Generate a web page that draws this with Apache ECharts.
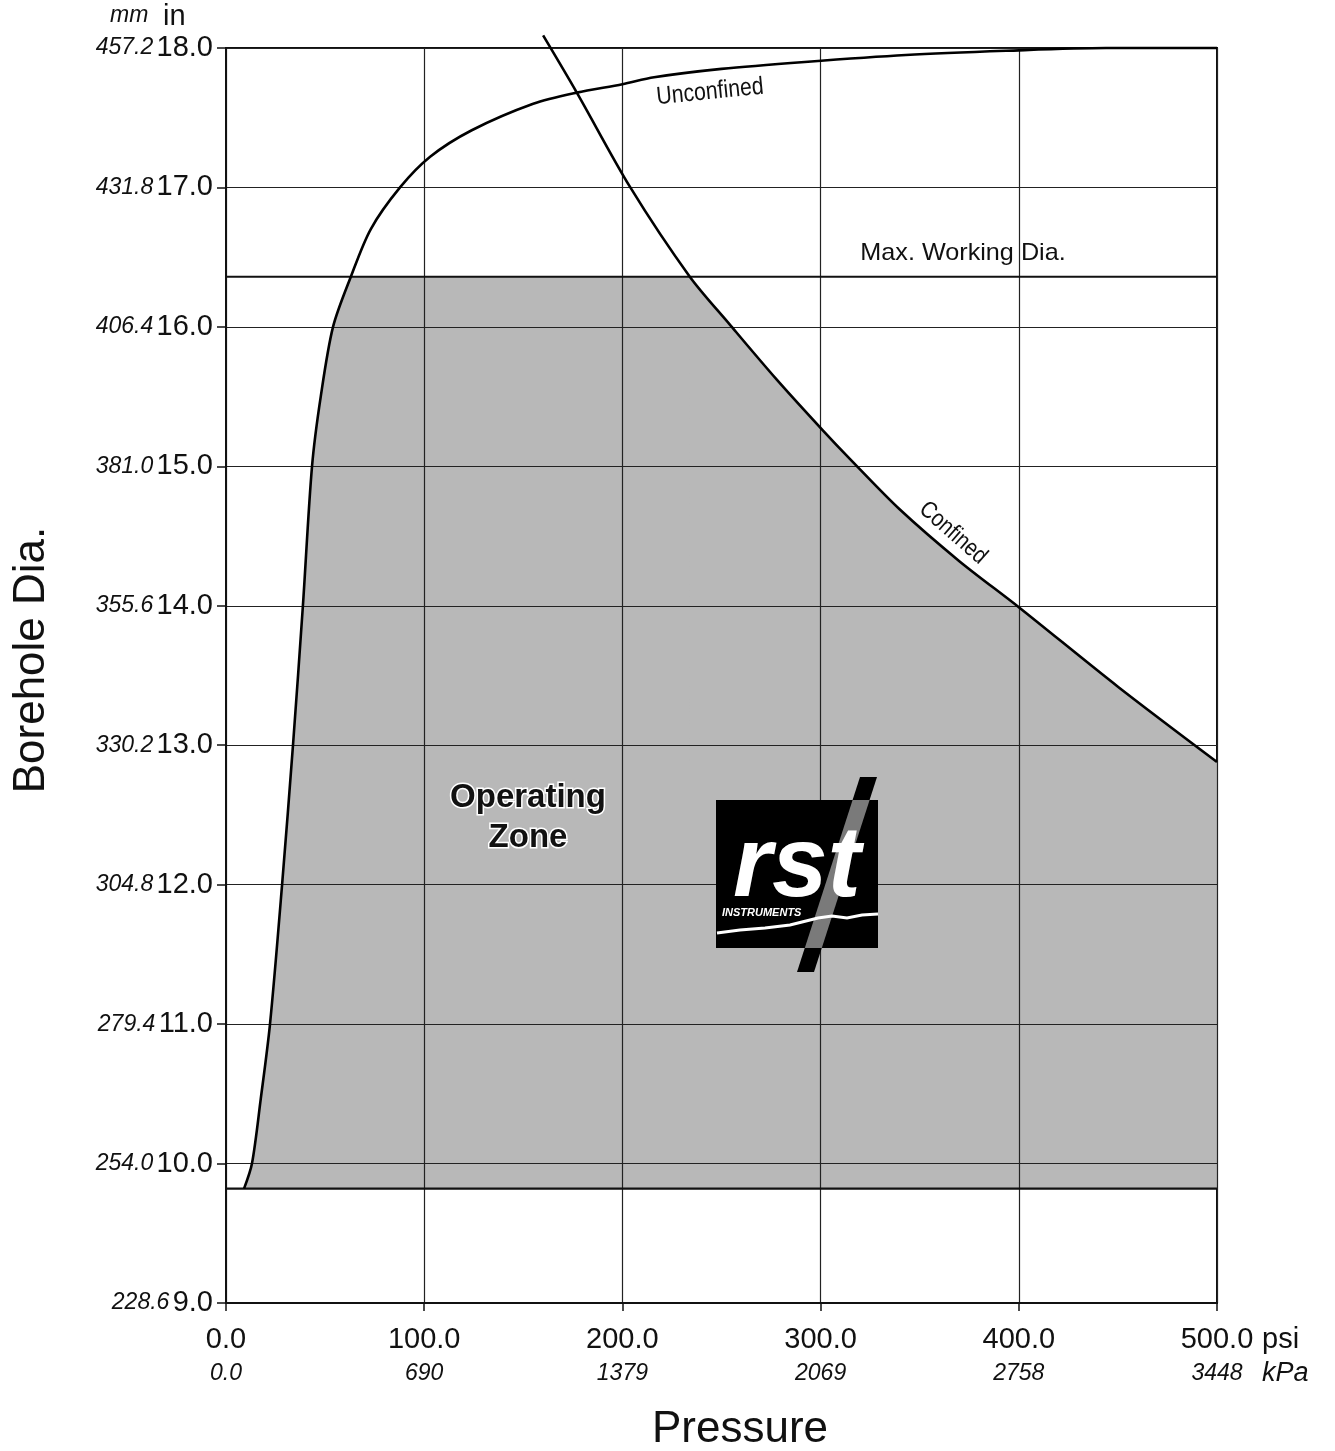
<!DOCTYPE html>
<html>
<head>
<meta charset="utf-8">
<script src="https://cdn.jsdelivr.net/npm/echarts@6/dist/echarts.min.js"></script>
<style>
html,body{margin:0;padding:0;background:#fff;}
#chart{width:1335px;height:1451px;}
</style>
</head>
<body>
<div id="chart"></div>
<script>
// ---- data ----
const psiLabels = ['0.0', '100.0', '200.0', '300.0', '400.0', '500.0'];
const kpaLabels = ['0.0', '690', '1379', '2069', '2758', '3448'];
const inLabels = ['9.0', '10.0', '11.0', '12.0', '13.0', '14.0', '15.0', '16.0', '17.0', '18.0'];
const mmLabels = ['228.6', '254.0', '279.4', '304.8', '330.2', '355.6', '381.0', '406.4', '431.8', '457.2'];

const minDia = 9.82;         // bottom boundary line (in)
const maxWorkingDia = 16.36; // max working diameter (in)

// Unconfined curve [psi, in]
const unconfined = [
  [9.1, 9.82], [13.1, 10.0], [17.5, 10.46], [22.2, 11.0], [28.3, 12.0], [33.8, 13.0],
  [38.8, 14.0], [43.4, 15.0], [47.8, 15.5], [54, 16.0], [63, 16.36], [73, 16.7],
  [87.8, 17.0], [103, 17.22], [124, 17.41], [155, 17.6], [177, 17.68],
  [200, 17.74], [216, 17.79], [250, 17.85], [292, 17.9], [343, 17.95],
  [393.6, 17.98], [444, 18.0], [500, 18.0]
];

// Confined curve [psi, in]
const confined = [
  [160, 18.09], [177, 17.68], [204, 17.0], [234, 16.36], [254, 16.02],
  [278, 15.62], [301, 15.26], [315, 15.05], [340, 14.69], [370, 14.32],
  [400, 13.99], [450, 13.42], [500, 12.88]
];

// ---- zone boundary pieces derived from the curves ----
function crossX(pts, yv) {
  for (let i = 1; i < pts.length; i++) {
    const a = pts[i - 1], b = pts[i];
    if ((a[1] - yv) * (b[1] - yv) <= 0 && a[1] !== b[1]) {
      return a[0] + (yv - a[1]) * (b[0] - a[0]) / (b[1] - a[1]);
    }
  }
  return null;
}
const xu = crossX(unconfined, maxWorkingDia);
const xc = crossX(confined, maxWorkingDia);
const zoneLeft = unconfined.filter(p => p[0] < xu).concat([[xu, maxWorkingDia]]);
const zoneMid = [[xu - 1, maxWorkingDia], [xc + 1, maxWorkingDia]];
const zoneRight = [[xc, maxWorkingDia]].concat(confined.filter(p => p[0] > xc));

const FONT = 'Liberation Sans, Arial, sans-serif';
const SMOOTH = 0.3;
const ZONE_COLOR = '#b8b8b8';

function zoneSeries(name, data, smooth) {
  return {
    name: name, type: 'line', z: 1, data: data,
    showSymbol: false, symbol: 'none', smooth: smooth,
    lineStyle: { width: 0 }, silent: true,
    areaStyle: { color: ZONE_COLOR, opacity: 1, origin: minDia }
  };
}

const chart = echarts.init(document.getElementById('chart'));

const option = {
  backgroundColor: '#fff',
  animation: false,
  grid: {
    left: 226, right: 118, top: 48, bottom: 148,
    show: true, borderColor: '#111', borderWidth: 2, backgroundColor: 'transparent'
  },
  xAxis: {
    type: 'value', min: 0, max: 500, interval: 100, z: 3,
    axisLine: { show: true, lineStyle: { color: '#111', width: 2 } },
    axisTick: { show: true, length: 8, lineStyle: { color: '#111', width: 1.5 } },
    splitLine: { show: true, lineStyle: { color: '#222', width: 1.2 } },
    axisLabel: {
      margin: 19,
      formatter: (v, i) => '{p|' + psiLabels[i] + '}\n{k|' + kpaLabels[i] + '}',
      rich: {
        p: { fontFamily: FONT, fontSize: 29, color: '#111', lineHeight: 36 },
        k: { fontFamily: FONT, fontSize: 23, fontStyle: 'italic', color: '#111', lineHeight: 32 }
      }
    }
  },
  yAxis: {
    type: 'value', min: 9, max: 18, interval: 1, z: 3,
    axisLine: { show: true, lineStyle: { color: '#111', width: 2 } },
    axisTick: { show: true, length: 9, lineStyle: { color: '#111', width: 1.5 } },
    splitLine: { show: true, lineStyle: { color: '#222', width: 1.2 } },
    axisLabel: {
      margin: 13,
      formatter: (v, i) => '{mm|' + mmLabels[i] + '} {inch|' + inLabels[i] + '}',
      rich: {
        mm: { fontFamily: FONT, fontSize: 23, fontStyle: 'italic', color: '#111' },
        inch: { fontFamily: FONT, fontSize: 29, color: '#111' }
      }
    }
  },
  series: [
    zoneSeries('Operating Zone L', zoneLeft, SMOOTH),
    zoneSeries('Operating Zone M', zoneMid, false),
    zoneSeries('Operating Zone R', zoneRight, SMOOTH),
    {
      name: 'Min Dia', type: 'line', z: 4, data: [[0, minDia], [500, minDia]],
      showSymbol: false, symbol: 'none', lineStyle: { color: '#111', width: 2.2 }
    },
    {
      name: 'Max. Working Dia.', type: 'line', z: 4, data: [[0, maxWorkingDia], [500, maxWorkingDia]],
      showSymbol: false, symbol: 'none', lineStyle: { color: '#111', width: 2 }
    },
    {
      name: 'Unconfined', type: 'line', z: 5, data: unconfined,
      showSymbol: false, symbol: 'none', smooth: SMOOTH, clip: false,
      lineStyle: { color: '#000', width: 2.6 }
    },
    {
      name: 'Confined', type: 'line', z: 5, data: confined,
      showSymbol: false, symbol: 'none', smooth: SMOOTH, clip: false,
      lineStyle: { color: '#000', width: 2.6 }
    }
  ],
  graphic: [
    // axis titles
    { type: 'text', x: 32, y: 660, rotation: Math.PI / 2, z: 10,
      style: { text: 'Borehole Dia.', font: '44px ' + FONT, fill: '#111', align: 'center', verticalAlign: 'middle' } },
    { type: 'text', x: 740, y: 1430, z: 10,
      style: { text: 'Pressure', font: '44px ' + FONT, fill: '#111', align: 'center', verticalAlign: 'middle' } },
    // unit headers
    { type: 'text', left: 110, top: 4, style: { text: 'mm', font: 'italic 23px ' + FONT, fill: '#111' } },
    { type: 'text', left: 163, top: 2, style: { text: 'in', font: '29px ' + FONT, fill: '#111' } },
    { type: 'text', left: 1262, top: 1325, style: { text: 'psi', font: '29px ' + FONT, fill: '#111' } },
    { type: 'text', left: 1262, top: 1360, style: { text: 'kPa', font: 'italic 27px ' + FONT, fill: '#111' } },
    // curve labels
    { type: 'text', x: 710, y: 92, rotation: 0.1, scaleX: 0.85, z: 10,
      style: { text: 'Unconfined', font: '25px ' + FONT, fill: '#111', align: 'center', verticalAlign: 'middle' } },
    { type: 'text', x: 963, y: 253, scaleX: 1.05, z: 10,
      style: { text: 'Max. Working Dia.', font: '24px ' + FONT, fill: '#111', align: 'center', verticalAlign: 'middle' } },
    { type: 'text', x: 953, y: 533, rotation: -0.72, scaleX: 0.85, z: 10,
      style: { text: 'Confined', font: '24px ' + FONT, fill: '#111', align: 'center', verticalAlign: 'middle' } },
    // zone label
    { type: 'text', x: 528, y: 818, z: 10,
      style: { text: 'Operating\nZone', font: 'bold 33px ' + FONT, fill: '#111', align: 'center', verticalAlign: 'middle',
               lineHeight: 40, stroke: '#fff', lineWidth: 3 } },
    // logo
    { type: 'polygon', z: 10, shape: { points: [[860, 777], [877, 777], [814, 972], [797, 972]] }, style: { fill: '#000' } },
    { type: 'rect', z: 11, shape: { x: 716, y: 800, width: 162, height: 148 }, style: { fill: '#000' } },
    { type: 'polygon', z: 12, shape: { points: [[852.6, 800], [869.6, 800], [821.8, 948], [804.8, 948]] }, style: { fill: '#7a7a7a' } },
    { type: 'text', z: 13, x: 797, y: 918,
      style: { text: 'rst', font: 'italic bold 100px ' + FONT, fill: '#fff', align: 'center', verticalAlign: 'bottom' } },
    { type: 'text', z: 13, x: 722, y: 913,
      style: { text: 'INSTRUMENTS', font: 'italic bold 11px ' + FONT, fill: '#fff', align: 'left', verticalAlign: 'middle' } },
    { type: 'polyline', z: 13, shape: { points: [[717, 933], [740, 930], [765, 928], [790, 925], [802, 922], [818, 918], [832, 916], [847, 918], [862, 915], [878, 914]] },
      style: { stroke: '#fff', lineWidth: 3, fill: null } }
  ]
};

chart.setOption(option);
</script>
</body>
</html>
